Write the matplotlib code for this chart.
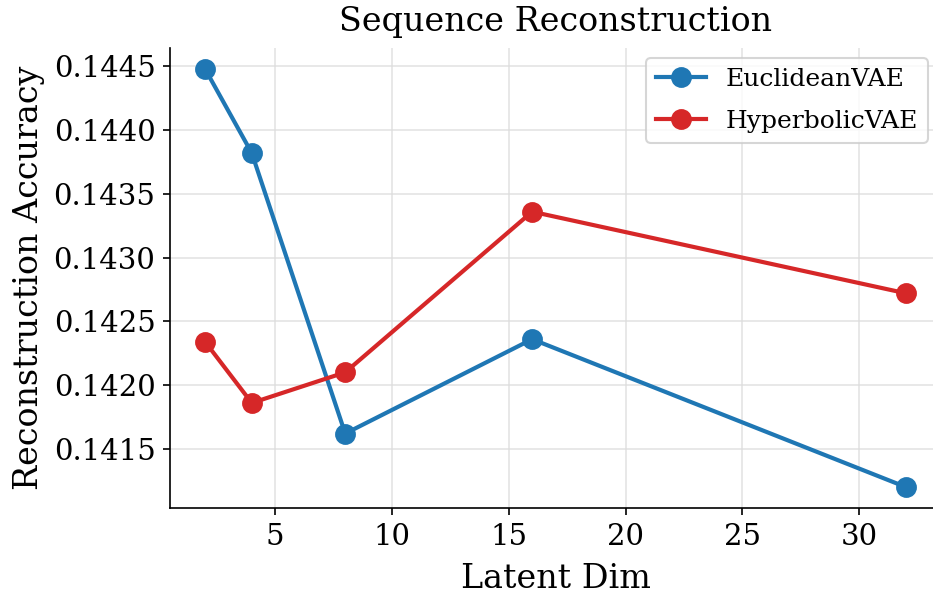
import matplotlib
matplotlib.use("Agg")
import matplotlib.pyplot as plt
from matplotlib.ticker import MultipleLocator, FormatStrFormatter

latent_dim = [2, 4, 8, 16, 32]
euclidean_vae = [0.14448, 0.14382, 0.14162, 0.14236, 0.14120]
hyperbolic_vae = [0.14234, 0.14186, 0.14210, 0.14336, 0.14272]

plt.rcParams['font.family'] = ['DejaVu Serif']

fig = plt.figure(figsize=(933/150, 598/150), dpi=150)
ax = fig.add_axes([170/933, 1-508/598, (941-170)/933, (508-48)/598])

ax.plot(latent_dim, euclidean_vae, marker='o', color='#1f77b4', lw=2, ms=9, label='EuclideanVAE')
ax.plot(latent_dim, hyperbolic_vae, marker='o', color='#d62728', lw=2, ms=9, label='HyperbolicVAE')

ax.yaxis.set_major_locator(MultipleLocator(0.0005))
ax.yaxis.set_major_formatter(FormatStrFormatter('%.4f'))
ax.xaxis.set_major_locator(MultipleLocator(5))

ax.set_title('Sequence Reconstruction', fontsize=16, pad=8)
ax.set_xlabel('Latent Dim', fontsize=16, labelpad=6)
ax.set_ylabel('Reconstruction Accuracy', fontsize=16)
ax.tick_params(labelsize=14)
ax.grid(True, color='#dddddd', lw=0.8, alpha=0.8)
ax.spines['top'].set_visible(False)
ax.spines['right'].set_visible(False)
ax.legend(fontsize=12, loc='upper right', borderaxespad=0,
          bbox_to_anchor=((928-170)/771, 1 - (58-48)/460), labelspacing=0.75)

fig.savefig('out.png', dpi=150)
